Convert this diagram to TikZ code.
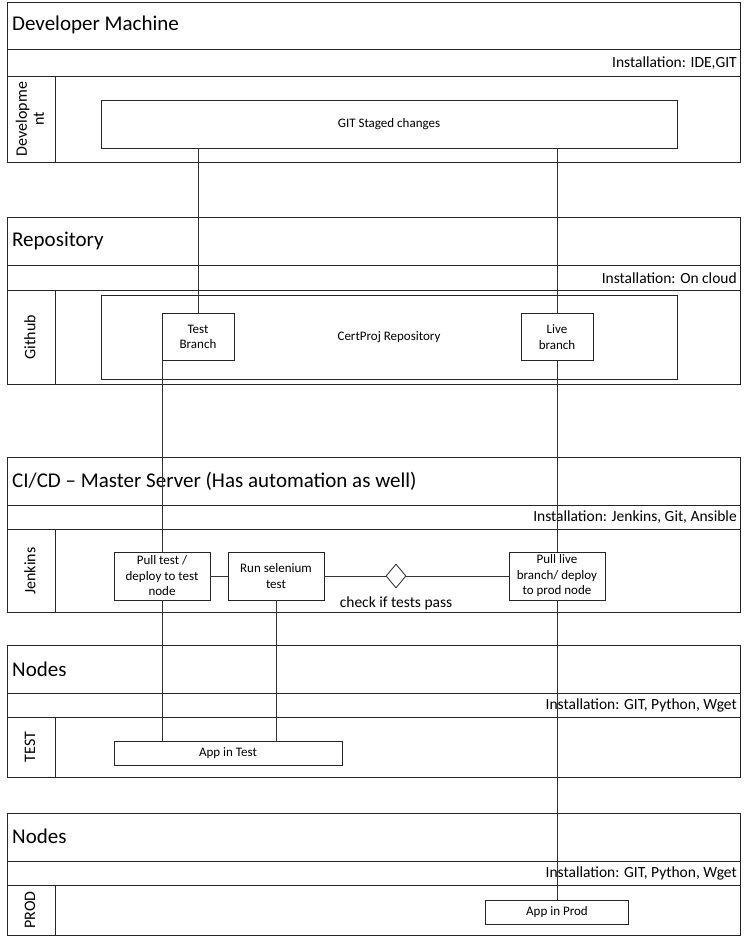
\documentclass[tikz,border=0pt]{standalone}
\usepackage{fontspec}
\setmainfont{Carlito}
\usetikzlibrary{shapes.geometric}
\begin{document}
\begin{tikzpicture}[x=1pt,y=-1pt,
  frame/.style={draw=black!85,line width=1pt},
  title/.style={anchor=west,inner sep=0pt,font=\fontsize{21}{24}\selectfont},
  install/.style={anchor=east,inner sep=0pt,font=\fontsize{15.5}{17}\selectfont},
  lanelbl/.style={rotate=90,inner sep=0pt,align=center,font=\fontsize{16}{17}\selectfont},
  box/.style={draw=black!85,line width=0.8pt,fill=white,inner sep=1pt,outer sep=0pt,align=center,font=\fontsize{13}{15.5}\selectfont},
  conn/.style={draw=black!80,line width=0.8pt}]
\useasboundingbox (0,0) rectangle (749,938);

% ---------- Section 1: Developer Machine
\draw[frame] (7,2) rectangle (740,162);
\draw[frame] (7,49) -- (740,49);
\draw[frame] (7,76) -- (740,76);
\draw[frame] (55,76) -- (55,162);
\node[title] (t1) at (12,25) {Developer Machine};
\node[install] (i1) at (737,63) {Installation: IDE,GIT};
\node[lanelbl] (l1) at (30,119) {Developme\\nt};
\node[box,minimum width=576,minimum height=48] (git) at (389,124) {GIT Staged changes};

% ---------- Section 2: Repository
\draw[frame] (7,217) rectangle (740,384);
\draw[frame] (7,265) -- (740,265);
\draw[frame] (7,290) -- (740,290);
\draw[frame] (55,290) -- (55,384);
\node[title] (t2) at (12,241) {Repository};
\node[install] (i2) at (737,278) {Installation: On cloud};
\node[lanelbl] (l2) at (30,337) {Github};
\node[box,minimum width=576,minimum height=84] (repo) at (389,337) {CertProj Repository};
\node[box,minimum width=72,minimum height=47] (tb) at (198,337) {Test\\Branch};
\node[box,minimum width=72,minimum height=47] (lb) at (557,337) {Live\\branch};

% ---------- Section 3: CI/CD
\draw[frame] (7,457) rectangle (740,612);
\draw[frame] (7,505) -- (740,505);
\draw[frame] (7,529) -- (740,529);
\draw[frame] (55,529) -- (55,612);
\node[title] (t3) at (12,481) {CI/CD -- Master Server (Has automation as well)};
\node[install] (i3) at (737,517) {Installation: Jenkins, Git, Ansible};
\node[lanelbl] (l3) at (30,571) {Jenkins};
\node[box,minimum width=96,minimum height=48] (pt) at (162,576) {Pull test /\\deploy to test\\node};
\node[box,minimum width=96,minimum height=48] (rs) at (276,576) {Run selenium\\test};
\node[draw=black!85,line width=0.8pt,diamond,minimum width=20,minimum height=24,inner sep=0pt] (dia) at (396,576) {};
\node[inner sep=0pt,font=\fontsize{15.5}{17}\selectfont] (chk) at (396,603) {check if tests pass};
\node[box,minimum width=96,minimum height=48] (pl) at (557,576) {Pull live\\branch/ deploy\\to prod node};

% ---------- Section 4: Nodes TEST
\draw[frame] (7,645) rectangle (740,777);
\draw[frame] (7,693) -- (740,693);
\draw[frame] (7,717) -- (740,717);
\draw[frame] (55,717) -- (55,777);
\node[title] (t4) at (12,669) {Nodes};
\node[install] (i4) at (737,705) {Installation: GIT, Python, Wget};
\node[lanelbl] (l4) at (30,747) {TEST};
\node[box,minimum width=228,minimum height=24] (ait) at (228,753) {App in Test};

% ---------- Section 5: Nodes PROD
\draw[frame] (7,813) rectangle (740,935);
\draw[frame] (7,861) -- (740,861);
\draw[frame] (7,885) -- (740,885);
\draw[frame] (55,885) -- (55,935);
\node[title] (t5) at (12,836) {Nodes};
\node[install] (i5) at (737,873) {Installation: GIT, Python, Wget};
\node[lanelbl] (l5) at (30,910) {PROD};
\node[box,minimum width=143,minimum height=24] (aip) at (557,912) {App in Prod};

% ---------- Connectors
\draw[conn] (tb.north) -- (tb.north |- git.south);
\draw[conn] (lb.north) -- (lb.north |- git.south);
\draw[conn] (pt.north) -- (pt.north |- tb.south);
\draw[conn] (lb.south) -- (pl.north);
\draw[conn] (pt.south) -- (pt.south |- ait.north);
\draw[conn] (rs.south) -- (rs.south |- ait.north);
\draw[conn] (pl.south) -- (pl.south |- aip.north);
\draw[conn] (pt.east) -- (rs.west);
\draw[conn] (rs.east) -- (dia.west);
\draw[conn] (dia.east) -- (pl.west);
\end{tikzpicture}
\end{document}
